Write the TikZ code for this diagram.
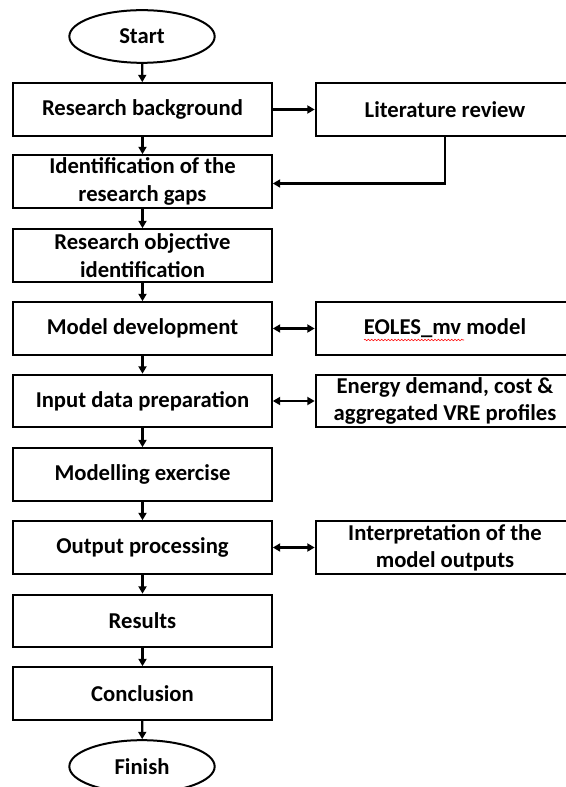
\documentclass[tikz,border=0pt]{standalone}
\usepackage{fontspec}
\setmainfont{Carlito}
\usetikzlibrary{arrows.meta,shapes.geometric,decorations.pathmorphing}
\tikzstyle{StepText}=[font=\bfseries\fontsize{17}{20.5}\selectfont,align=center]
\tikzstyle{StepBox}=[StepText,rectangle,draw=black,line width=1.5pt,minimum width=194pt,
minimum height=39.5pt,inner sep=1pt]
\tikzstyle{EndOval}=[StepText,ellipse,draw=black,line width=1.5pt,minimum width=109pt,
minimum height=39.5pt,inner sep=0pt]
\tikzstyle{ArrowFlow}=[line width=1.7pt,-{Triangle[length=5.5pt,width=6pt]}]
\tikzstyle{ArrowBoth}=[line width=1.7pt,{Triangle[length=5.5pt,width=6pt]}-{Triangle[length=5.5pt,width=6pt]}]
\begin{document}
\begin{tikzpicture}[x=0.75pt,y=-0.75pt]
        \useasboundingbox(0,0)rectangle(566,787);
        \node[EndOval](start)at(142,36.5){Start};
        \node[StepBox](rb)at(142.5,109.5){Research background};
        \node[StepBox](lr)at(445,109.5){Literature review};
        \node[StepBox](gaps)at(142.5,181.5){Identification of the\\research gaps};
        \node[StepBox](obj)at(142.5,255.5){Research objective\\identification};
        \node[StepBox](md)at(142.5,328.5){Model development};
        \node[StepBox](eoles)at(445,328.5){EOLES\_mv model};
        \node[StepBox](idp)at(142.5,401){Input data preparation};
        \node[StepBox](vre)at(445,401){Energy demand, cost \&\\aggregated VRE profiles};
        \node[StepBox](me)at(142.5,474.5){Modelling exercise};
        \node[StepBox](op)at(142.5,547.5){Output processing};
        \node[StepBox](interp)at(445,547.5){Interpretation of the\\model outputs};
        \node[StepBox](res)at(142.5,621){Results};
        \node[StepBox](conc)at(142.5,693.5){Conclusion};
        \node[EndOval](finish)at(142,766.5){Finish};
        \draw[ArrowFlow](start)--(rb);
        \draw[ArrowFlow](rb)--(lr);
        \draw[ArrowFlow](lr.south)|-([yshift=-1.5pt]gaps.east);
        \draw[ArrowFlow](rb)--(gaps);
        \draw[ArrowFlow](gaps)--(obj);
        \draw[ArrowFlow](obj)--(md);
        \draw[ArrowBoth](md)--(eoles);
        \draw[ArrowFlow](md)--(idp);
        \draw[ArrowBoth](idp)--(vre);
        \draw[ArrowFlow](idp)--(me);
        \draw[ArrowFlow](me)--(op);
        \draw[ArrowBoth](op)--(interp);
        \draw[ArrowFlow](op)--(res);
        \draw[ArrowFlow](res)--(conc);
        \draw[ArrowFlow](conc)--(finish);
        % spell-check squiggle
        \draw[red,line width=0.4pt,decorate,decoration={snake,amplitude=0.6pt,segment length=2.5pt}](364,340)--(464,340);
    \end{tikzpicture}
\end{document}
